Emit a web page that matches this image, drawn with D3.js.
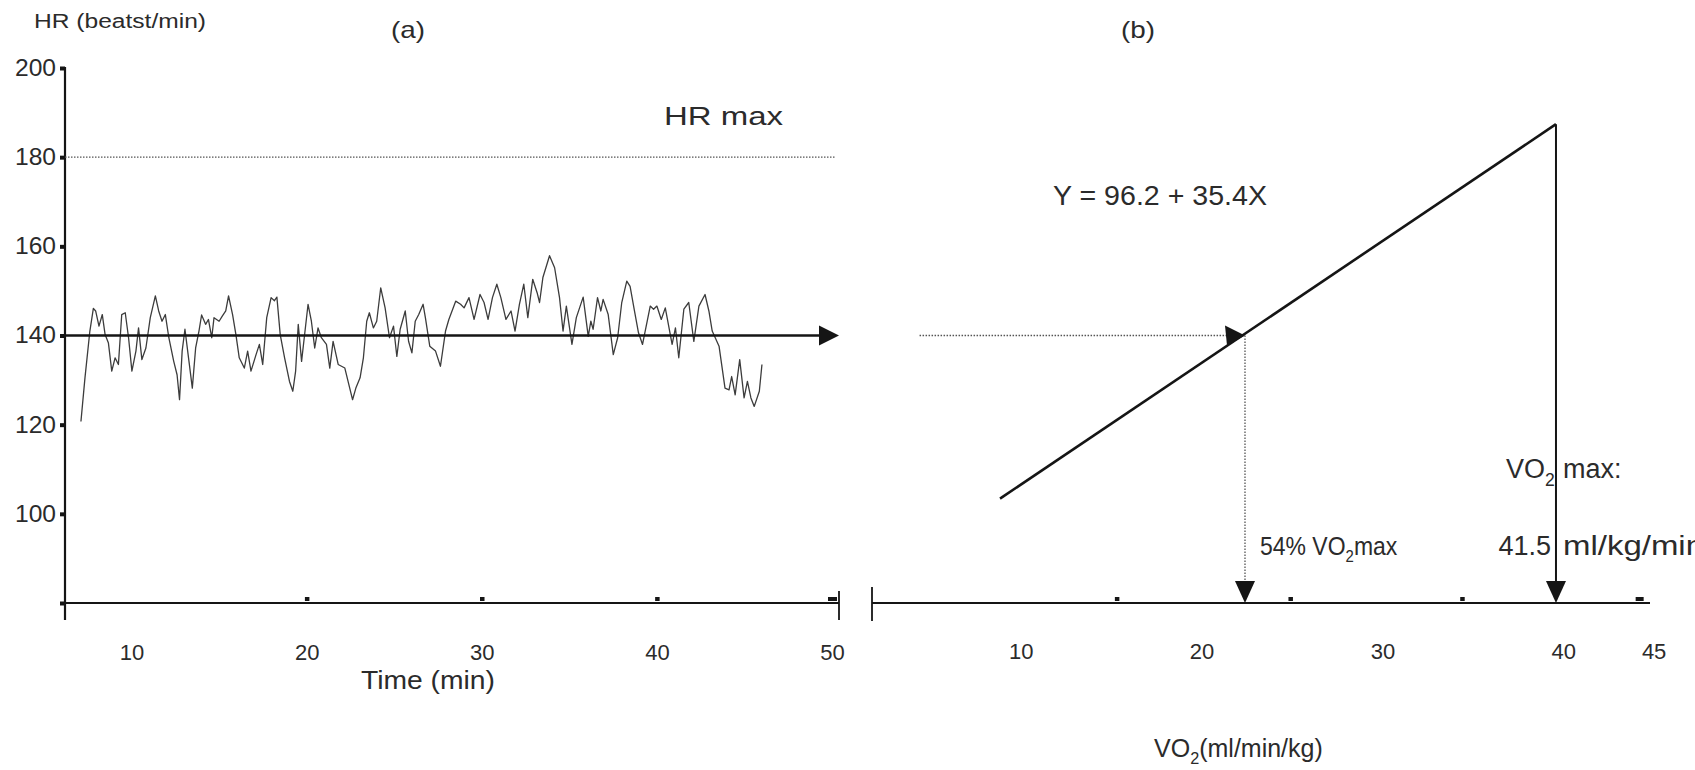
<!DOCTYPE html>
<html><head><meta charset="utf-8">
<script src="https://cdn.jsdelivr.net/npm/d3@7"></script>
<style>
body{margin:0;background:#fff;}
text{font-family:"Liberation Sans",Arial,sans-serif;fill:#2b2b2b;}
</style></head><body>
<svg id="chart" width="1695" height="770"></svg>
<script>
// ---------- data ----------
const hrTime = [7.11,7.34,7.62,7.82,7.95,8.14,8.33,8.49,8.68,8.87,9.06,9.25,9.44,9.64,9.83,10.02,10.25,10.4,10.59,10.82,11.07,11.36,11.55,11.74,11.93,12.13,12.41,12.6,12.74,12.89,13.05,13.28,13.47,13.66,13.85,14.0,14.23,14.39,14.58,14.71,15.0,15.19,15.38,15.54,15.77,15.96,16.15,16.44,16.63,16.82,17.11,17.3,17.49,17.72,17.97,18.16,18.3,18.49,18.74,19.02,19.21,19.37,19.52,19.71,20.08,20.27,20.46,20.65,20.84,21.13,21.32,21.51,21.8,22.18,22.62,22.81,23.05,23.24,23.43,23.58,23.81,24.0,24.23,24.48,24.73,24.96,25.15,25.34,25.63,25.82,26.01,26.2,26.4,26.65,26.78,27.03,27.36,27.64,27.93,28.12,28.51,28.79,28.99,29.27,29.56,29.9,30.13,30.36,30.61,30.86,31.09,31.38,31.67,31.9,32.15,32.4,32.63,32.91,33.16,33.3,33.49,33.87,34.16,34.44,34.64,34.83,35.15,35.4,35.79,36.08,36.23,36.36,36.61,36.8,36.93,37.22,37.51,37.76,37.99,38.28,38.47,38.72,38.95,39.18,39.43,39.62,39.81,40.0,40.25,40.48,40.87,41.06,41.25,41.54,41.82,42.11,42.4,42.75,42.97,43.16,43.55,43.89,44.12,44.27,44.47,44.73,44.98,45.17,45.37,45.56,45.85,46.0];
const hrValues = [120.7,130.5,141,146.1,145.5,142.1,144.7,140.2,138.3,132,135,133.5,144.7,145.1,139.5,132,136.5,141.7,134.6,137.2,144,148.9,145.5,143.2,144.7,139.5,134.2,131.2,125.6,136.5,141.4,134.2,128.2,137.2,141,144.6,142.5,143.6,139.5,144,143.2,144.4,145.5,148.9,144.7,140.2,135,132.7,136.5,132,135.7,138,133.5,144,148.5,147.8,148.6,140.2,135,129.7,127.5,132,142.5,134.2,147,143.2,137.2,141.7,139.5,138,132.7,138.7,133.5,132.7,125.6,128.2,130.5,135,143.2,145.1,141.7,143.2,150.7,146.2,139.5,142.1,135.3,141.4,145.5,138.7,136.1,143.2,144.7,147,144,137.6,136.5,133.1,141,143.6,147.7,147,146.2,148.5,143.6,149.2,147.4,143.6,148.5,151.5,148.5,143.6,145.5,141,147,151.5,144,152.6,149.6,147.4,153,157.9,155.2,148.5,141,146.6,138,144,148.6,139.8,143.2,141.4,148.5,145.5,148.1,144.7,135.7,139.5,147.3,152.2,151,145.5,140.6,138,142.9,146.6,145.9,146.6,143.6,146.2,138,141.7,135,145.9,147.4,138.7,146.6,149.2,145.5,141,137.6,128.2,127.8,130.8,126.7,134.6,126,129.7,126,124.1,127.5,133.5];

const hrTickValues = [80,100,120,140,160,180,200];
const hrTickLabels = ["","100","120","140","160","180","200"];
const timeTickLabels = [10,20,30,40,50];
const timeTickMarks = [20,30,40,50];
const vo2TickLabels = [10,20,30,40,45];
const vo2TickMarks = [15.3,24.9,34.4,44.2];

const hrMax = 180;            // HR max dotted line
const hrExercise = 140;       // mean exercise HR (arrow)
const regVO2 = [8.85, 39.6];  // regression line end points (VO2)
const regHR = [103.4, 187.4]; // regression line end points (HR)
const vo2Exercise = 22.4;     // 54% VO2max arrow
const vo2Max = 39.6;          // VO2max arrow (as drawn)
const dottedStartVO2 = 4.4;

// ---------- scales ----------
const svg = d3.select("#chart");
svg.append("rect").attr("width",1695).attr("height",770).attr("fill","#fff");

const y = d3.scaleLinear().domain([80,200]).range([603,68]);
const xA = d3.scaleLinear().domain([6.2,50.4]).range([65,839]);
const xB = d3.scaleLinear().domain([1.77,44.8]).range([872,1650]);
const y0 = y(80);
const ink = "#151515";
const FF = "'Liberation Sans',Arial,sans-serif";

// ---------- panel (a) ----------
const gA = svg.append("g");

// y axis
const yAxis = d3.axisLeft(y).tickValues(hrTickValues).tickSize(5).tickPadding(4)
  .tickFormat((d,i)=>hrTickLabels[i]);
const gy = gA.append("g").attr("transform",`translate(${xA(6.2)},0)`).call(yAxis);
gy.select(".domain").remove();
gy.selectAll(".tick line").attr("stroke",ink).attr("stroke-width",4);
gy.selectAll(".tick text").attr("font-size",23).attr("fill","#2b2b2b").style("font-family",FF)
  .attr("textLength",d=>d===80?null:41).attr("lengthAdjust","spacingAndGlyphs");
gA.append("line").attr("x1",xA(6.2)).attr("x2",xA(6.2))
  .attr("y1",y(200)-1).attr("y2",y0+17).attr("stroke",ink).attr("stroke-width",2.2);

// x axis line
gA.append("line").attr("x1",xA(6.2)).attr("x2",xA(50.4)).attr("y1",y0).attr("y2",y0)
  .attr("stroke",ink).attr("stroke-width",2.2);
gA.append("line").attr("x1",xA(50.4)).attr("x2",xA(50.4)).attr("y1",y0-12).attr("y2",y0+17)
  .attr("stroke",ink).attr("stroke-width",1.8);
// tick labels
const gxA = gA.append("g").attr("transform",`translate(0,${y0})`)
  .call(d3.axisBottom(xA).tickValues(timeTickLabels).tickSize(0).tickPadding(41));
gxA.select(".domain").remove();
gxA.selectAll("text").attr("font-size",22).attr("fill","#2b2b2b").style("font-family",FF);
// tick marks (small squares above axis)
const gxAm = gA.append("g").attr("transform",`translate(0,${y0-2})`)
  .call(d3.axisBottom(xA).tickValues(timeTickMarks).tickSize(-4).tickFormat(""));
gxAm.select(".domain").remove();
gxAm.selectAll(".tick line").attr("stroke",ink).attr("stroke-width",(d)=>d===50?9:4.5);

// HR max dotted line
gA.append("line").attr("x1",xA(6.2)).attr("x2",xA(50.2)).attr("y1",y(hrMax)).attr("y2",y(hrMax))
  .attr("stroke","#555").attr("stroke-width",1.3).attr("stroke-dasharray","1.5,1.5");

// HR trace
const hrData = hrTime.map((t,i)=>({t, v:hrValues[i]}));
gA.append("path").datum(hrData)
  .attr("d", d3.line().x(d=>xA(d.t)).y(d=>y(d.v)))
  .attr("fill","none").attr("stroke","#3c3c3c").attr("stroke-width",1.3)
  .attr("stroke-linejoin","round");

// 140 arrow
const tipA = xA(50.4);
gA.append("line").attr("x1",xA(6.2)).attr("x2",tipA-18).attr("y1",y(hrExercise)).attr("y2",y(hrExercise))
  .attr("stroke",ink).attr("stroke-width",2.6);
gA.append("path")
  .attr("d",`M${tipA},${y(hrExercise)} L${tipA-20},${y(hrExercise)-10} L${tipA-20},${y(hrExercise)+10} Z`)
  .attr("fill",ink);

// texts (a)
gA.append("text").attr("x",34).attr("y",28).attr("font-size",20)
  .attr("textLength",172).attr("lengthAdjust","spacingAndGlyphs").text("HR (beatst/min)");
gA.append("text").attr("x",391).attr("y",38).attr("font-size",24)
  .attr("textLength",34).attr("lengthAdjust","spacingAndGlyphs").text("(a)");
gA.append("text").attr("x",664).attr("y",125).attr("font-size",26)
  .attr("textLength",119).attr("lengthAdjust","spacingAndGlyphs").text("HR max");
gA.append("text").attr("x",361).attr("y",689).attr("font-size",25)
  .attr("textLength",134).attr("lengthAdjust","spacingAndGlyphs").text("Time (min)");

// ---------- panel (b) ----------
const gB = svg.append("g");
// x axis
gB.append("line").attr("x1",xB(1.77)).attr("x2",xB(44.8)).attr("y1",y0).attr("y2",y0)
  .attr("stroke",ink).attr("stroke-width",2.2);
gB.append("line").attr("x1",xB(1.77)).attr("x2",xB(1.77)).attr("y1",y0-16).attr("y2",y0+18)
  .attr("stroke",ink).attr("stroke-width",1.8);
const gxB = gB.append("g").attr("transform",`translate(0,${y0})`)
  .call(d3.axisBottom(xB).tickValues(vo2TickLabels).tickSize(0).tickPadding(40));
gxB.select(".domain").remove();
gxB.selectAll("text").attr("font-size",22).attr("fill","#2b2b2b").style("font-family",FF);
const gxBm = gB.append("g").attr("transform",`translate(0,${y0-2})`)
  .call(d3.axisBottom(xB).tickValues(vo2TickMarks).tickSize(-4).tickFormat(""));
gxBm.select(".domain").remove();
gxBm.selectAll(".tick line").attr("stroke",ink).attr("stroke-width",(d,i)=>i===3?8:4.5);

// regression line
gB.append("path").datum(regVO2.map((v,i)=>({v, h:regHR[i]})))
  .attr("d", d3.line().x(d=>xB(d.v)).y(d=>y(d.h)))
  .attr("stroke",ink).attr("stroke-width",2.6).attr("fill","none");

// dotted horizontal to line with arrowhead
const xE = xB(vo2Exercise), yE = y(hrExercise);
gB.append("line").attr("x1",xB(dottedStartVO2)).attr("x2",xE-18).attr("y1",yE).attr("y2",yE)
  .attr("stroke","#555").attr("stroke-width",1.3).attr("stroke-dasharray","1.5,1.5");
gB.append("path").attr("d",`M${xE},${yE} L${xE-20},${yE-10} L${xE-18},${yE+10} Z`).attr("fill",ink);
// dotted vertical down to axis
gB.append("line").attr("x1",xE).attr("x2",xE).attr("y1",yE).attr("y2",y0-20)
  .attr("stroke","#555").attr("stroke-width",1.3).attr("stroke-dasharray","1.5,1.5");
gB.append("path").attr("d",`M${xE},${y0} L${xE-10},${y0-22} L${xE+10},${y0-22} Z`).attr("fill",ink);
// VO2max vertical
const xM = xB(vo2Max);
gB.append("line").attr("x1",xM).attr("x2",xM).attr("y1",y(regHR[1])).attr("y2",y0-20)
  .attr("stroke",ink).attr("stroke-width",2);
gB.append("path").attr("d",`M${xM},${y0} L${xM-10},${y0-22} L${xM+10},${y0-22} Z`).attr("fill",ink);

// texts (b)
gB.append("text").attr("x",1121).attr("y",38).attr("font-size",24)
  .attr("textLength",34).attr("lengthAdjust","spacingAndGlyphs").text("(b)");
gB.append("text").attr("x",1053).attr("y",205).attr("font-size",27)
  .attr("textLength",214).attr("lengthAdjust","spacingAndGlyphs").text("Y = 96.2 + 35.4X");

// single text element with a subscript tspan (normal glyph widths)
function subText(g, x, yy, size, before, sub, after){
  const t = g.append("text").attr("x",x).attr("y",yy).attr("font-size",size);
  t.append("tspan").text(before);
  t.append("tspan").attr("font-size",size*0.65).attr("dy",size*0.28).text(sub);
  if(after) t.append("tspan").attr("dy",-size*0.28).text(after);
  return t;
}
subText(gB,1260,555,23,"54% VO","2","max").attr("transform","translate(1260,555) scale(1,1.15) translate(-1260,-555)");
subText(gB,1506,478,27,"VO","2",null);
gB.append("text").attr("x",1563).attr("y",478).attr("font-size",27).text("max:");
gB.append("text").attr("x",1551).attr("y",555).attr("font-size",27)
  .attr("text-anchor","end").text("41.5");
gB.append("text").attr("x",1563).attr("y",555).attr("font-size",27)
  .attr("textLength",141).attr("lengthAdjust","spacingAndGlyphs").text("ml/kg/min");
subText(gB,1154,757,25,"VO","2","(ml/min/kg)");
</script>
</body></html>
